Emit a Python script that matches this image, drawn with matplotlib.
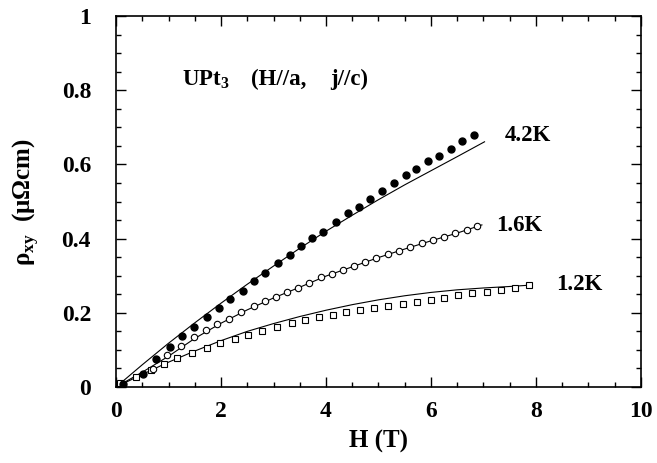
import matplotlib
matplotlib.use("Agg")
import matplotlib.pyplot as plt
from matplotlib.ticker import MultipleLocator

plt.rcParams["font.family"] = ["Liberation Serif", "DejaVu Serif"]
plt.rcParams["font.weight"] = "bold"
plt.rcParams["mathtext.fontset"] = "custom"
plt.rcParams["mathtext.rm"] = "Liberation Serif:bold"
plt.rcParams["mathtext.bf"] = "Liberation Serif:bold"

# measured points, rho_xy (micro-ohm cm) vs H (T)
h_42 = [0.13, 0.52, 0.76, 1.02, 1.25, 1.49, 1.73, 1.96, 2.18, 2.42, 2.63, 2.84, 3.09, 3.32, 3.53,
        3.74, 3.95, 4.19, 4.41, 4.63, 4.84, 5.07, 5.30, 5.52, 5.71, 5.94, 6.16, 6.39, 6.59, 6.81]
rho_42 = [0.007, 0.034, 0.075, 0.108, 0.137, 0.161, 0.190, 0.214, 0.238, 0.260, 0.287, 0.307, 0.333, 0.356, 0.379,
          0.401, 0.417, 0.444, 0.469, 0.484, 0.507, 0.528, 0.549, 0.571, 0.588, 0.608, 0.622, 0.641, 0.662, 0.679]

h_16 = [0.70, 0.98, 1.24, 1.49, 1.71, 1.92, 2.15, 2.38, 2.63, 2.83, 3.04, 3.25, 3.47, 3.68, 3.90,
        4.11, 4.33, 4.53, 4.75, 4.96, 5.18, 5.39, 5.60, 5.82, 6.03, 6.24, 6.46, 6.68, 6.88]
rho_16 = [0.049, 0.086, 0.111, 0.135, 0.154, 0.169, 0.184, 0.202, 0.218, 0.232, 0.243, 0.255, 0.268, 0.281, 0.296,
          0.305, 0.316, 0.326, 0.338, 0.348, 0.358, 0.367, 0.377, 0.387, 0.396, 0.404, 0.415, 0.422, 0.434]

h_12 = [0.08, 0.39, 0.67, 0.92, 1.17, 1.44, 1.73, 1.99, 2.27, 2.52, 2.79, 3.06, 3.35, 3.60, 3.87,
        4.13, 4.39, 4.65, 4.92, 5.19, 5.46, 5.73, 6.00, 6.25, 6.52, 6.79, 7.06, 7.33, 7.60, 7.87]
rho_12 = [0.010, 0.028, 0.046, 0.063, 0.077, 0.091, 0.104, 0.118, 0.129, 0.140, 0.152, 0.161, 0.172, 0.181, 0.188,
          0.194, 0.201, 0.208, 0.212, 0.218, 0.223, 0.228, 0.235, 0.239, 0.248, 0.253, 0.257, 0.261, 0.266, 0.275]

# calculated curves
fit_h_42 = [0, 0.5, 1, 1.5, 2, 2.5, 3, 3.5, 4, 4.5, 5, 5.5, 6, 6.5, 7.02]
fit_rho_42 = [0, 0.060, 0.118, 0.173, 0.226, 0.277, 0.326, 0.374, 0.420, 0.463, 0.505, 0.545, 0.583, 0.621, 0.661]
fit_h_16 = [0, 0.5, 1, 1.5, 2, 2.5, 3, 3.5, 4, 4.5, 5, 5.5, 6, 6.5, 6.97]
fit_rho_16 = [0, 0.040, 0.083, 0.131, 0.172, 0.208, 0.240, 0.269, 0.299, 0.324, 0.349, 0.372, 0.394, 0.415, 0.437]
fit_h_12 = [0, 0.5, 1, 1.5, 2, 2.5, 3, 3.5, 4, 4.5, 5, 5.5, 6, 6.5, 7, 7.5, 7.93]
fit_rho_12 = [0, 0.034, 0.067, 0.097, 0.125, 0.150, 0.171, 0.190, 0.207, 0.222, 0.235, 0.246, 0.255, 0.262,
              0.267, 0.271, 0.275]

x_ticks = [0, 2, 4, 6, 8, 10]
x_labels = ["0", "2", "4", "6", "8", "10"]
y_ticks = [0, 0.2, 0.4, 0.6, 0.8, 1.0]
y_labels = ["0", "0.2", "0.4", "0.6", "0.8", "1"]

fig = plt.figure(figsize=(6.57, 4.63), dpi=100)
ax = fig.add_axes([0.1766, 0.1641, 0.799, 0.8013])

ax.plot(fit_h_12, fit_rho_12, color="black", lw=0.8)
ax.plot(fit_h_16, fit_rho_16, color="black", lw=0.8)
ax.plot(fit_h_42, fit_rho_42, color="black", lw=0.8)

ax.plot(h_12, rho_12, ls="none", marker="s", ms=4.6, mfc="white", mec="black", mew=0.8)
ax.plot(h_16, rho_16, ls="none", marker="o", ms=4.6, mfc="white", mec="black", mew=0.8)
ax.plot(h_42, rho_42, ls="none", marker="o", ms=5.0, mfc="black", mec="black")

# sample label, split in pieces to match the wide spacing
ax.text(1.26, 0.814, "UPt$_\\mathrm{3}$", fontsize=16.5, fontweight="bold", va="baseline")
ax.text(2.58, 0.814, "(H//a,", fontsize=16.5, fontweight="bold", va="baseline")
ax.text(4.08, 0.814, "j//c)", fontsize=16.5, fontweight="bold", va="baseline")

ax.text(7.41, 0.664, "4.2K", fontsize=16.5, fontweight="bold", va="baseline")
ax.text(7.25, 0.421, "1.6K", fontsize=16.5, fontweight="bold", va="baseline")
ax.text(8.39, 0.261, "1.2K", fontsize=16.5, fontweight="bold", va="baseline")

ax.set_xlim(0, 10)
ax.set_ylim(0, 1)
ax.set_xticks(x_ticks)
ax.set_xticklabels(x_labels)
ax.set_yticks(y_ticks)
ax.set_yticklabels(y_labels)
ax.xaxis.set_minor_locator(MultipleLocator(0.5))
ax.yaxis.set_minor_locator(MultipleLocator(0.05))
ax.tick_params(which="both", direction="in", top=True, right=True, width=1.0)
ax.tick_params(which="major", length=7, labelsize=17)
ax.tick_params(which="minor", length=3.5)
ax.tick_params(axis="x", pad=10)
ax.tick_params(axis="y", pad=18)
for s in ax.spines.values():
    s.set_linewidth(1.2)

ax.set_xlabel("H (T)", fontsize=18, fontweight="bold", labelpad=6)
ax.set_ylabel("ρ$_\\mathrm{xy}$  (μΩcm)", fontsize=18, fontweight="bold", labelpad=15)

fig.savefig("out.png", dpi=100)
